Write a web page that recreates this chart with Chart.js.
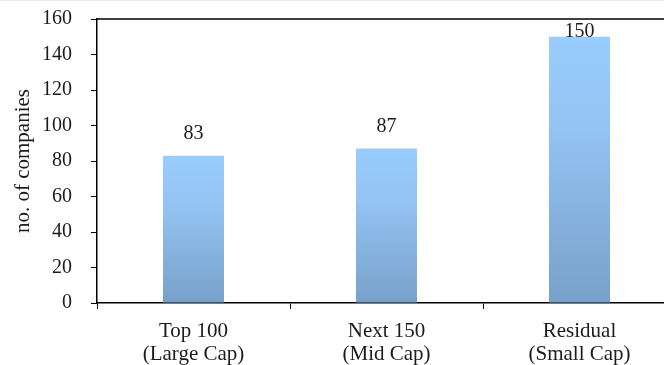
<!DOCTYPE html>
<html>
<head>
<meta charset="utf-8">
<script src="https://cdn.jsdelivr.net/npm/chart.js@4/dist/chart.umd.min.js"></script>
<style>
  html, body { margin: 0; padding: 0; background: #fff; overflow: hidden; }
  body { width: 664px; height: 365px; position: relative; }
  #wrap { position: absolute; left: 0; top: 0; width: 690px; height: 365px; }
  #edge { position: absolute; left: 0; top: 0; width: 664px; height: 1px; background: #ececec; }
</style>
</head>
<body>
<div id="wrap"><canvas id="c" width="690" height="365"></canvas></div>
<div id="edge"></div>
<script>
// Company counts per market-cap segment
const categories = [["Top 100", "(Large Cap)"], ["Next 150", "(Mid Cap)"], ["Residual", "(Small Cap)"]];
const companies = [83, 87, 150];
const yTicks = [0, 20, 40, 60, 80, 100, 120, 140, 160];

const FONT = "'Liberation Serif', 'Times New Roman', serif";
const INK = '#1b1b1b';

// Vertical gradient for each bar, light at the top and darker at the base
function barFill(ctx) {
  const chart = ctx.chart;
  const area = chart.chartArea;
  if (!area || ctx.type !== 'data') return '#99CCFF';
  const y = chart.scales.y;
  const top = y.getPixelForValue(ctx.raw);
  const base = y.getPixelForValue(0);
  const g = chart.ctx.createLinearGradient(0, top, 0, base);
  g.addColorStop(0, '#99CCFF');
  g.addColorStop(0.35, '#93C3F2');
  g.addColorStop(1, '#77A1C9');
  return g;
}

// Value labels above the bars, kept inside the plot frame
const valueLabels = {
  id: 'valueLabels',
  afterDatasetsDraw(chart) {
    const c = chart.ctx;
    const meta = chart.getDatasetMeta(0);
    c.save();
    c.font = '20px ' + FONT;
    c.fillStyle = INK;
    c.textAlign = 'center';
    c.textBaseline = 'alphabetic';
    meta.data.forEach((bar, i) => {
      const y = Math.max(bar.y - 17, chart.chartArea.top + 18);
      c.fillText(String(companies[i]), bar.x, y);
    });
    c.restore();
  }
};

// Top edge of the plot frame
const frameTop = {
  id: 'frameTop',
  afterDraw(chart) {
    const a = chart.chartArea;
    const c = chart.ctx;
    c.save();
    c.strokeStyle = '#000';
    c.lineWidth = 1.5;
    c.beginPath();
    c.moveTo(a.left, a.top);
    c.lineTo(a.right, a.top);
    c.stroke();
    c.restore();
  }
};

new Chart(document.getElementById('c'), {
  type: 'bar',
  data: {
    labels: categories,
    datasets: [{
      data: companies,
      backgroundColor: barFill,
      borderWidth: 0,
      categoryPercentage: 1,
      barPercentage: 0.316
    }]
  },
  options: {
    responsive: false,
    animation: false,
    devicePixelRatio: 1,
    layout: { padding: { left: 0, right: 14, top: 19, bottom: 0 } },
    plugins: {
      legend: { display: false },
      tooltip: { enabled: false }
    },
    scales: {
      x: {
        grid: {
          display: true,
          offset: true,
          drawOnChartArea: false,
          drawTicks: true,
          tickLength: 6,
          color: '#000'
        },
        border: { display: true, color: '#000', width: 1.5 },
        ticks: {
          color: INK,
          padding: 11,
          maxRotation: 0,
          font: { family: FONT, size: 21, lineHeight: 1.1 }
        },
        afterFit(scale) { scale.height = 62; }
      },
      y: {
        min: 0,
        max: 160,
        afterBuildTicks(scale) { scale.ticks = yTicks.map(v => ({ value: v })); },
        grid: {
          display: true,
          drawOnChartArea: false,
          drawTicks: true,
          tickLength: 6,
          color: '#000'
        },
        border: { display: true, color: '#000', width: 1.5 },
        ticks: {
          color: INK,
          padding: 19,
          font: { family: FONT, size: 20 }
        },
        title: {
          display: true,
          text: 'no. of companies',
          color: INK,
          padding: { top: 11, bottom: 0 },
          font: { family: FONT, size: 21 }
        },
        afterFit(scale) {
          scale.width = 97;
          scale.paddingTop = 0;
          scale.paddingBottom = 0;
        }
      }
    }
  },
  plugins: [valueLabels, frameTop]
});
</script>
</body>
</html>
